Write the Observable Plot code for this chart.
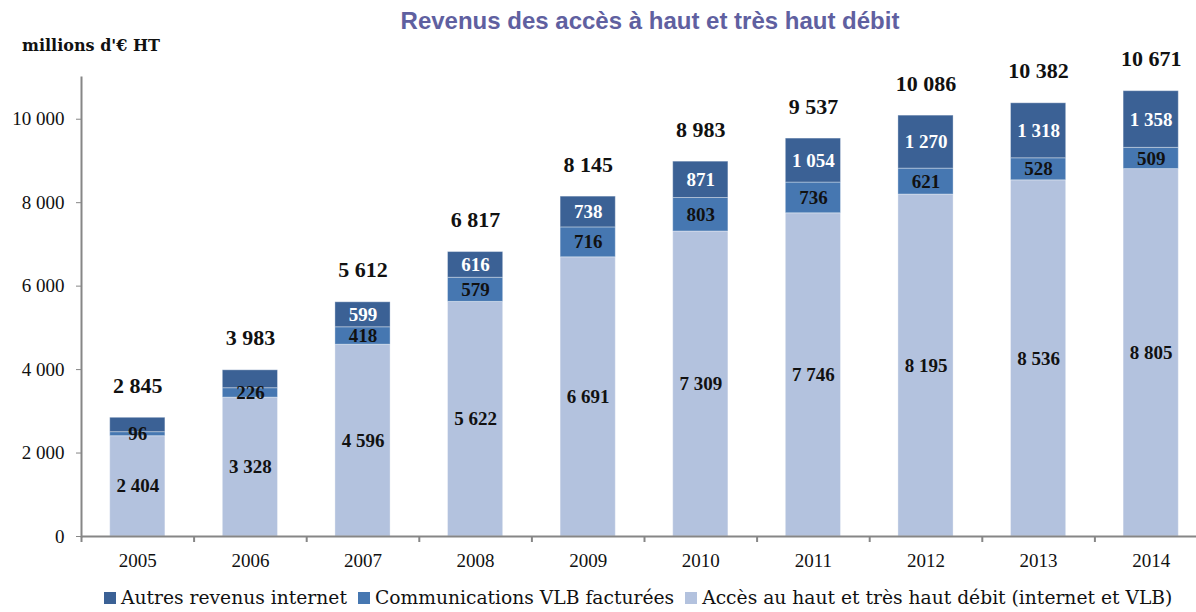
<!DOCTYPE html>
<html>
<head>
<meta charset="utf-8">
<script src="https://cdn.jsdelivr.net/npm/d3@7"></script>
<script src="https://cdn.jsdelivr.net/npm/@observablehq/plot@0.6"></script>
<style>
  body { margin: 0; background: #fff; }
  #wrap { position: relative; width: 1196px; height: 612px; overflow: hidden; background: #fff; }
  #title { position: absolute; top: 7px; left: 0; width: 1300px; text-align: center; z-index: 2;
           font: bold 24px "Liberation Sans", Arial, sans-serif; color: #5f60a0; }
  #unit { position: absolute; top: 36px; left: 22px; z-index: 2;
          font: bold 16px "DejaVu Serif", serif; color: #111; }
  #chart { position: absolute; top: 40px; left: 0; z-index: 1; }
  #legend { position: absolute; top: 587px; left: 104px; display: flex; align-items: center; z-index: 2;
            font: 18.7px "DejaVu Serif", serif; color: #111; white-space: nowrap; }
  #legend .sw { display: inline-block; width: 12px; height: 12px; margin-right: 5px; }
  #legend .it { display: flex; align-items: center; margin-right: 11px; }
</style>
</head>
<body>
<div id="wrap">
  <div id="title">Revenus des accès à haut et très haut débit</div>
  <div id="chart"></div>
  <div id="unit">millions d'€ HT</div>
  <div id="legend"></div>
</div>
<script>
const years = ["2005","2006","2007","2008","2009","2010","2011","2012","2013","2014"];
const acces = [2404, 3328, 4596, 5622, 6691, 7309, 7746, 8195, 8536, 8805];
const comms = [96, 226, 418, 579, 716, 803, 736, 621, 528, 509];
const autres = [345, 429, 599, 616, 738, 871, 1054, 1270, 1318, 1358];
const autresShown = [false, false, true, true, true, true, true, true, true, true];
const totals = [2845, 3983, 5612, 6817, 8145, 8983, 9537, 10086, 10382, 10671];
const seriesNames = ["Accès au haut et très haut débit (internet et VLB)", "Communications VLB facturées", "Autres revenus internet"];
const seriesColors = ["#b3c2de", "#4677b1", "#3b6195"];
const legendOrder = [2, 1, 0];
const yTicks = [0, 2000, 4000, 6000, 8000, 10000];

const rows = [];
years.forEach((y, i) => {
  rows.push({year: y, series: seriesNames[0], value: acces[i], show: true});
  rows.push({year: y, series: seriesNames[1], value: comms[i], show: true});
  rows.push({year: y, series: seriesNames[2], value: autres[i], show: autresShown[i]});
});
const totalRows = years.map((y, i) => ({year: y, total: totals[i]}));

const fmt = v => d3.format(",")(v).replace(/,/g, " ");
const xRange = [81, 1207];
const pInner = 0.51;
const step = (xRange[1] - xRange[0]) / years.length;
const serif = "Liberation Serif";

const chart = Plot.plot({
  width: 1196,
  height: 545,
  marginTop: 37,
  marginBottom: 49,
  marginLeft: 81,
  marginRight: 0,
  style: {fontFamily: serif, background: "white", color: "#111"},
  x: {domain: years, range: xRange, paddingInner: pInner, paddingOuter: pInner / 2, round: false},
  y: {domain: [0, 11000]},
  color: {domain: seriesNames, range: seriesColors},
  marks: [
    Plot.barY(rows, Plot.stackY({x: "year", y: "value", z: "series", fill: "series",
      stroke: "white", strokeOpacity: 0.35, strokeWidth: 1})),
    Plot.frame({anchor: "left", stroke: "#868686", strokeWidth: 2}),
    Plot.ruleY([0], {stroke: "#868686", strokeWidth: 2}),
    Plot.ruleX(years, {x: d => d, dx: -step / 2, y1: 0, y2: 0, insetBottom: -6, stroke: "#868686", strokeWidth: 2}),
    Plot.axisY({ticks: yTicks, tickFormat: fmt, tickSize: 5, tickPadding: 12, fontSize: 19, fontFamily: serif,
      fill: "#111", stroke: "#868686", label: null}),
    Plot.axisX({tickSize: 0, tickPadding: 17, fontSize: 19, fontFamily: serif, fill: "#111", label: null}),
    Plot.text(rows, Plot.stackY({x: "year", y: "value", z: "series",
      text: d => d.series !== seriesNames[2] ? fmt(d.value) : null,
      fill: "#111", fontSize: 19, fontWeight: "bold", fontFamily: serif})),
    Plot.text(rows, Plot.stackY({x: "year", y: "value", z: "series",
      text: d => d.series === seriesNames[2] && d.show ? fmt(d.value) : null,
      fill: "white", fontSize: 19, fontWeight: "bold", fontFamily: serif})),
    Plot.text(totalRows, {x: "year", y: "total", text: d => fmt(d.total), dy: -32,
      fontSize: 22, fontWeight: "bold", fill: "#111", fontFamily: serif})
  ]
});
document.getElementById("chart").appendChild(chart);

const legend = document.getElementById("legend");
legendOrder.forEach(i => {
  const it = document.createElement("span");
  it.className = "it";
  const sw = document.createElement("span");
  sw.className = "sw";
  sw.style.background = seriesColors[i];
  it.appendChild(sw);
  it.appendChild(document.createTextNode(seriesNames[i]));
  legend.appendChild(it);
});
</script>
</body>
</html>
